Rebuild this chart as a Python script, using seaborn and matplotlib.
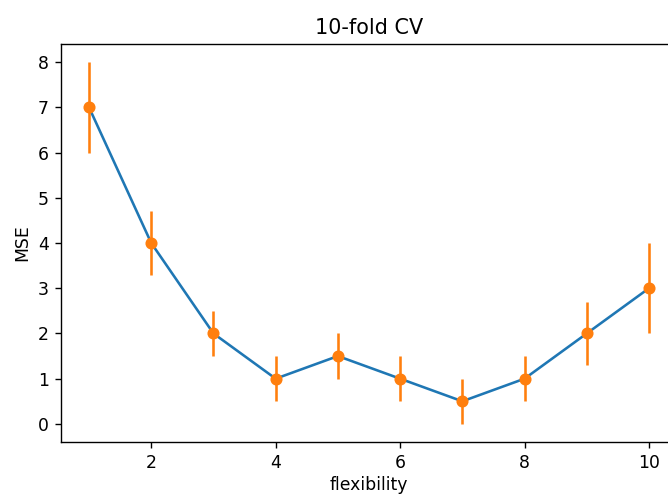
import numpy as np
import pandas as pd
import matplotlib
matplotlib.use("Agg")
import matplotlib.pyplot as plt
import seaborn as sns

flexibility = [1, 2, 3, 4, 5, 6, 7, 8, 9, 10]
mse = [7, 4, 2, 1, 1.5, 1, 0.5, 1, 2, 3]
mse_err = [1, 0.7, 0.5, 0.5, 0.5, 0.5, 0.5, 0.5, 0.7, 1]

df = pd.DataFrame({"flexibility": flexibility, "MSE": mse, "err": mse_err})

DPI = 124.2
fig = plt.figure(figsize=(668 / DPI, 496 / DPI), dpi=DPI)
ax = fig.add_axes([61 / 668, 54 / 496, 616 / 668, 398 / 496])

sns.lineplot(data=df, x="flexibility", y="MSE", color="C0", ax=ax)
ax.errorbar(df["flexibility"], df["MSE"], yerr=df["err"], fmt="o",
            color="C1", zorder=3)

ax.set_title("10-fold CV")
# keep the x label just inside the canvas
ax.set_xlabel("flexibility", labelpad=2.5)
ax.set_ylabel("MSE")
ax.set_xticks([2, 4, 6, 8, 10])

fig.savefig("out.png", dpi=DPI)
